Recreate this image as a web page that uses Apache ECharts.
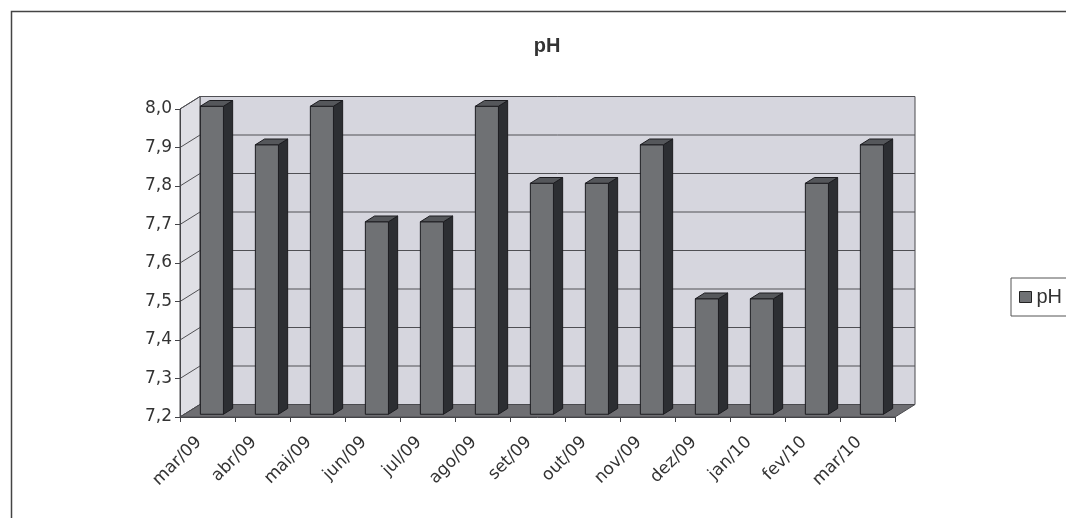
<!DOCTYPE html>
<html>
<head>
<meta charset="utf-8">
<title>pH</title>
<script src="https://cdn.jsdelivr.net/npm/echarts@6/dist/echarts.min.js"></script>
<style>
  html, body { margin: 0; padding: 0; background: #ffffff; }
  #chart { width: 1066px; height: 518px; }
</style>
</head>
<body>
<div id="chart"></div>
<script>
// Monthly pH readings
const months = ['mar/09', 'abr/09', 'mai/09', 'jun/09', 'jul/09', 'ago/09', 'set/09',
                'out/09', 'nov/09', 'dez/09', 'jan/10', 'fev/10', 'mar/10'];
const phValues = [8.0, 7.9, 8.0, 7.7, 7.7, 8.0, 7.8, 7.8, 7.9, 7.5, 7.5, 7.8, 7.9];
const yTicks = [7.2, 7.3, 7.4, 7.5, 7.6, 7.7, 7.8, 7.9, 8.0];

const Y_MIN = 7.2, Y_MAX = 8.0, Y_STEP = 0.1;

// Depth of the pseudo-3D box (back wall offset from the front plane)
const DX = 20, DY = -12.5;
// Bar placement inside the depth (fractions of the full depth) and width share
const BAR_FRONT = 0.22, BAR_BACK = 0.68, BAR_WIDTH = 0.42;

const FONT = '"Liberation Sans", Arial, sans-serif';
const WIDE_FONT = '"DejaVu Sans", sans-serif';

const chart = echarts.init(document.getElementById('chart'));

function fmt(v) { return v.toFixed(1).replace('.', ','); }

// Walls, floor and gridlines of the 3D frame
function renderFrame(params, api) {
  const n = months.length;
  const bw = api.size([1, 0])[0];
  const x0 = api.coord([0, Y_MIN])[0] - bw / 2;
  const x1 = api.coord([n - 1, Y_MIN])[0] + bw / 2;
  const yB = api.coord([0, Y_MIN])[1];
  const yT = api.coord([0, Y_MAX])[1];
  const children = [];
  // back wall
  children.push({
    type: 'polygon',
    shape: { points: [[x0 + DX, yT + DY], [x1 + DX, yT + DY], [x1 + DX, yB + DY], [x0 + DX, yB + DY]] },
    style: { fill: '#d6d6de', stroke: '#4a4a4e', lineWidth: 1 }
  });
  // left side wall
  children.push({
    type: 'polygon',
    shape: { points: [[x0, yT], [x0 + DX, yT + DY], [x0 + DX, yB + DY], [x0, yB]] },
    style: { fill: '#dfdfe5', stroke: '#4a4a4e', lineWidth: 1 }
  });
  // gridlines on back and side walls
  yTicks.forEach(function (t) {
    const y = api.coord([0, t])[1];
    children.push({
      type: 'line',
      shape: { x1: x0 + DX, y1: y + DY, x2: x1 + DX, y2: y + DY },
      style: { stroke: '#505054', lineWidth: 1 }
    });
    children.push({
      type: 'line',
      shape: { x1: x0, y1: y, x2: x0 + DX, y2: y + DY },
      style: { stroke: '#505054', lineWidth: 1 }
    });
  });
  // floor
  children.push({
    type: 'polygon',
    shape: { points: [[x0, yB], [x1, yB], [x1 + DX, yB + DY], [x0 + DX, yB + DY]] },
    style: { fill: '#6e6e72', stroke: '#4a4a4e', lineWidth: 1 }
  });
  return { type: 'group', children: children };
}

// One 3D column per month
function renderBar(params, api) {
  const i = api.value(0);
  const v = api.value(1);
  const bw = api.size([1, 0])[0];
  const top = api.coord([i, v]);
  const base = api.coord([i, Y_MIN]);
  const fdx = BAR_FRONT * DX, fdy = BAR_FRONT * DY;
  const sdx = (BAR_BACK - BAR_FRONT) * DX, sdy = (BAR_BACK - BAR_FRONT) * DY;
  const w = bw * BAR_WIDTH;
  const fx0 = top[0] - w / 2 + fdx;
  const fx1 = fx0 + w;
  const yt = top[1] + fdy;
  const yb = base[1] + fdy;
  return {
    type: 'group',
    children: [
      {
        type: 'polygon',
        shape: { points: [[fx1, yt], [fx1 + sdx, yt + sdy], [fx1 + sdx, yb + sdy], [fx1, yb]] },
        style: { fill: '#2c2e32', stroke: '#1c1c20', lineWidth: 1 }
      },
      {
        type: 'rect',
        shape: { x: fx0, y: yt, width: w, height: yb - yt },
        style: { fill: '#6f7174', stroke: '#1c1c20', lineWidth: 1 }
      },
      {
        type: 'polygon',
        shape: { points: [[fx0, yt], [fx1, yt], [fx1 + sdx, yt + sdy], [fx0 + sdx, yt + sdy]] },
        style: { fill: '#55575b', stroke: '#1c1c20', lineWidth: 1 }
      }
    ]
  };
}

const option = {
  backgroundColor: '#ffffff',
  animation: false,
  title: {
    text: 'pH',
    left: 542,
    textAlign: 'center',
    top: 31,
    textStyle: { fontFamily: FONT, fontSize: 20, fontWeight: 'bold', color: '#333333' }
  },
  legend: {
    data: ['pH'],
    left: 1011,
    top: 278,
    orient: 'vertical',
    icon: 'rect',
    itemWidth: 12,
    itemHeight: 11,
    itemGap: 4,
    padding: [9, 30, 9, 8],
    borderColor: '#555555',
    borderWidth: 1,
    itemStyle: { borderColor: '#222222', borderWidth: 1 },
    textStyle: { fontFamily: FONT, fontSize: 20, color: '#333333', padding: [0, 0, 0, 0] }
  },
  grid: {
    left: 180, right: 171, top: 109, bottom: 101,
    containLabel: false,
    outerBoundsMode: 'none'
  },
  xAxis: {
    type: 'category',
    data: months,
    boundaryGap: true,
    z: 10,
    axisLine: { show: true, lineStyle: { color: '#444448', width: 1 } },
    axisTick: { show: true, length: 5, lineStyle: { color: '#444448' } },
    axisLabel: {
      rotate: 45,
      margin: 14,
      interval: 0,
      padding: [0, 12, 0, 0],
      fontFamily: WIDE_FONT,
      fontSize: 17,
      color: '#333333'
    },
    splitLine: { show: false }
  },
  yAxis: {
    type: 'value',
    min: Y_MIN,
    max: Y_MAX,
    interval: Y_STEP,
    z: 10,
    axisLine: { show: true, lineStyle: { color: '#444448', width: 1 } },
    axisTick: { show: true, length: 5, lineStyle: { color: '#444448' } },
    axisLabel: {
      formatter: fmt,
      margin: 8,
      fontFamily: WIDE_FONT,
      fontSize: 17,
      color: '#333333'
    },
    splitLine: { show: false }
  },
  graphic: [
    {
      type: 'rect',
      left: 9, top: 9,
      shape: { width: 1200, height: 700 },
      style: { fill: 'none', stroke: '#444444', lineWidth: 1.5 },
      z: -10,
      silent: true
    }
  ],
  series: [
    {
      name: 'frame',
      type: 'custom',
      renderItem: renderFrame,
      data: [[0, Y_MIN]],
      encode: { x: 0, y: 1 },
      z: 1,
      silent: true,
      tooltip: { show: false }
    },
    {
      name: 'pH',
      type: 'custom',
      renderItem: renderBar,
      data: phValues.map(function (v, i) { return [i, v]; }),
      encode: { x: 0, y: 1 },
      itemStyle: { color: '#6f7174' },
      z: 3
    }
  ]
};

chart.setOption(option);
</script>
</body>
</html>
